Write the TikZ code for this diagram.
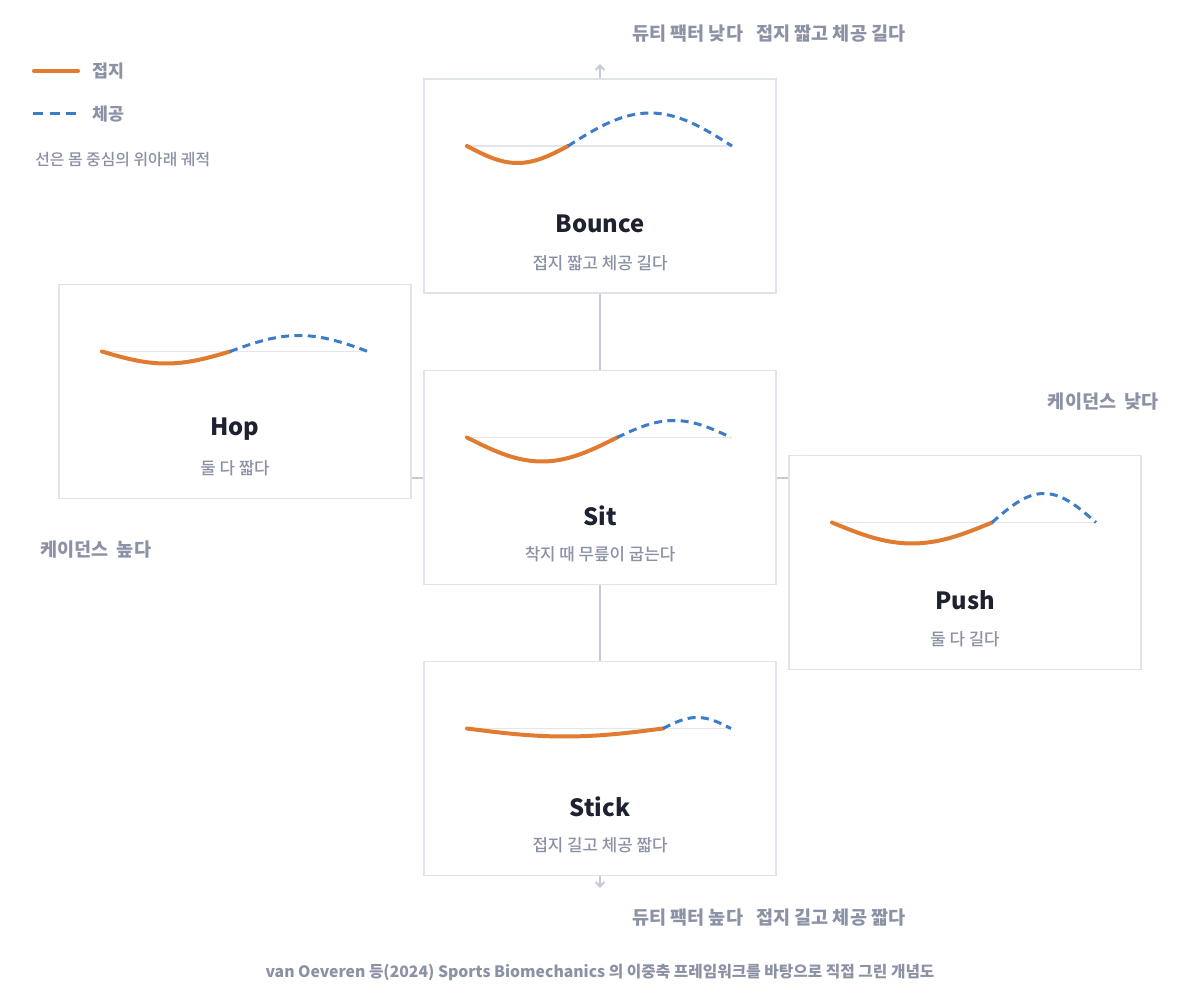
\documentclass[tikz,border=0pt]{standalone}
\usepackage{fontspec}
\setmainfont{Noto Sans CJK KR}
\newfontfamily\medfont{Noto Sans CJK KR Medium}
\usepackage{tikz}
\usetikzlibrary{calc, arrows.meta}
\usepackage{xcolor}
\definecolor{ink}{HTML}{1E2230}
\definecolor{muted}{HTML}{8B92A5}
\definecolor{boxline}{HTML}{DFE3EC}
\definecolor{axisline}{HTML}{C5CAD6}
\definecolor{baseline}{HTML}{E3E6EE}
\definecolor{contactc}{HTML}{E07B2F}
\definecolor{flightc}{HTML}{3D7CC9}

\begin{document}
\begin{tikzpicture}[x=0.75pt, y=-0.75pt, >={Straight Barb[length=3.5pt, width=6.5pt]}]
	\tikzstyle{box} = [draw=boxline, line width=1.2pt, fill=white, minimum width=264pt, minimum height=160.5pt]
	\tikzstyle{title} = [font=\bfseries\fontsize{17.8}{20}\selectfont, text=ink]
	\tikzstyle{desc} = [font=\medfont\fontsize{12.6}{14}\selectfont, text=muted]
	\tikzstyle{axislabel} = [font=\bfseries\fontsize{13.9}{15}\selectfont, text=muted, inner sep=0pt]
	\tikzstyle{legendlabel} = [font=\bfseries\fontsize{13}{15}\selectfont, text=muted, inner sep=0pt]
	\tikzstyle{axis} = [draw=axisline, line width=1.5pt]
	\tikzstyle{base} = [draw=baseline, line width=1.1pt]
	\tikzstyle{contact} = [draw=contactc, line width=3pt, line cap=round]
	\tikzstyle{flight} = [draw=flightc, line width=2.25pt, dash pattern=on 6pt off 4pt]

	\useasboundingbox[fill=white] (0,0) rectangle (1200,995);

	% legend
	\draw[contact]	(34,71) -- (78,71);
	\draw[flight, dash pattern=on 7.5pt off 5pt]	(33,114) -- (78,114);
	\node[legendlabel, anchor=west]	at (92,71)		(leg1)	{접지};
	\node[legendlabel, anchor=west]	at (92,114)		(leg2)	{체공};
	\node[legendlabel, anchor=west, font=\medfont\fontsize{11.9}{13}\selectfont]	at (35,160)	(leg3)	{선은 몸 중심의 위아래 궤적};

	% boxes
	\node[box]	at (600, 186)	(bounce)	{};
	\node[box]	at (235, 391.5)	(hop)		{};
	\node[box]	at (600, 477.5)	(sit)		{};
	\node[box]	at (965, 562.5)	(push)		{};
	\node[box]	at (600, 768.5)	(stick)		{};

	\node[title]	at ($(bounce.center)+(0,38)$)	(t1)	{Bounce};
	\node[desc]		at ($(bounce.center)+(0,77)$)	(d1)	{접지 짧고 체공 길다};
	\node[title]	at ($(hop.center)+(0,38)$)		(t2)	{Hop};
	\node[desc]		at ($(hop.center)+(0,77)$)		(d2)	{둘 다 짧다};
	\node[title]	at ($(sit.center)+(0,38)$)		(t3)	{Sit};
	\node[desc]		at ($(sit.center)+(0,77)$)		(d3)	{착지 때 무릎이 굽는다};
	\node[title]	at ($(push.center)+(0,38)$)		(t4)	{Push};
	\node[desc]		at ($(push.center)+(0,77)$)		(d4)	{둘 다 길다};
	\node[title]	at ($(stick.center)+(0,38)$)	(t5)	{Stick};
	\node[desc]		at ($(stick.center)+(0,77)$)	(d5)	{접지 길고 체공 짧다};

	% traces
	\begin{scope}[shift={(bounce.center)}]
		\draw[base] (-133,-40) -- (132,-40);
		\draw[contact] plot[domain=-133:-32, samples=40] (\x, {-40+17*sin((\x+133)/101*180)});
		\draw[flight] plot[domain=-32:132, samples=50] (\x, {-40-33*sin((\x+32)/164*180)});
	\end{scope}
	\begin{scope}[shift={(hop.center)}]
		\draw[base] (-133,-40) -- (133,-40);
		\draw[contact] plot[domain=-133:-5, samples=40] (\x, {-40+12*sin((\x+133)/128*180)});
		\draw[flight] plot[domain=-5:133, samples=50] (\x, {-40-16*sin((\x+5)/138*180)});
	\end{scope}
	\begin{scope}[shift={(sit.center)}]
		\draw[base] (-133,-40) -- (131,-40);
		\draw[contact] plot[domain=-133:17, samples=40] (\x, {-40+24*sin((\x+133)/150*180)});
		\draw[flight] plot[domain=17:131, samples=50] (\x, {-40-17*sin((\x-17)/114*180)});
	\end{scope}
	\begin{scope}[shift={(push.center)}]
		\draw[base] (-133,-40) -- (131,-40);
		\draw[contact] plot[domain=-133:27, samples=40] (\x, {-40+21*sin((\x+133)/160*180)});
		\draw[flight] plot[domain=27:131, samples=50] (\x, {-40-29*sin((\x-27)/104*180)});
	\end{scope}
	\begin{scope}[shift={(stick.center)}]
		\draw[base] (-133,-40) -- (131,-40);
		\draw[contact] plot[domain=-133:63, samples=40] (\x, {-40+8*sin((\x+133)/196*180)});
		\draw[flight] plot[domain=63:131, samples=40] (\x, {-40-11*sin((\x-63)/68*180)});
	\end{scope}

	% axes
	\coordinate (up)	at (600,64);
	\coordinate (down)	at (600,888);
	\path[axis]
	(bounce)	edge	(sit)
	(sit)		edge	(stick)
	(sit.west)	edge	(sit.west -| hop.east)
	(sit.east)	edge	(sit.east -| push.west);
	\path[axis, ->]
	(bounce)	edge	(up)
	(stick)		edge	(down);

	\node[axislabel, anchor=west]	at (632,34)		(q1)	{듀티 팩터 낮다};
	\node[axislabel, anchor=west]	at (756,34)		(q2)	{접지 짧고 체공 길다};
	\node[axislabel, anchor=west]	at (632,918)	(q3)	{듀티 팩터 높다};
	\node[axislabel, anchor=west]	at (756,918)	(q4)	{접지 길고 체공 짧다};
	\node[axislabel, anchor=east]	at (1159,402)	(q5)	{케이던스\ \ 낮다};
	\node[axislabel, anchor=west]	at (40,550)		(q6)	{케이던스\ \ 높다};

	\node[axislabel, font=\bfseries\fontsize{11.8}{13}\selectfont]	at (600,972)	(src)	{van Oeveren 등(2024) Sports Biomechanics 의 이중축 프레임워크를 바탕으로 직접 그린 개념도};
\end{tikzpicture}
\end{document}
